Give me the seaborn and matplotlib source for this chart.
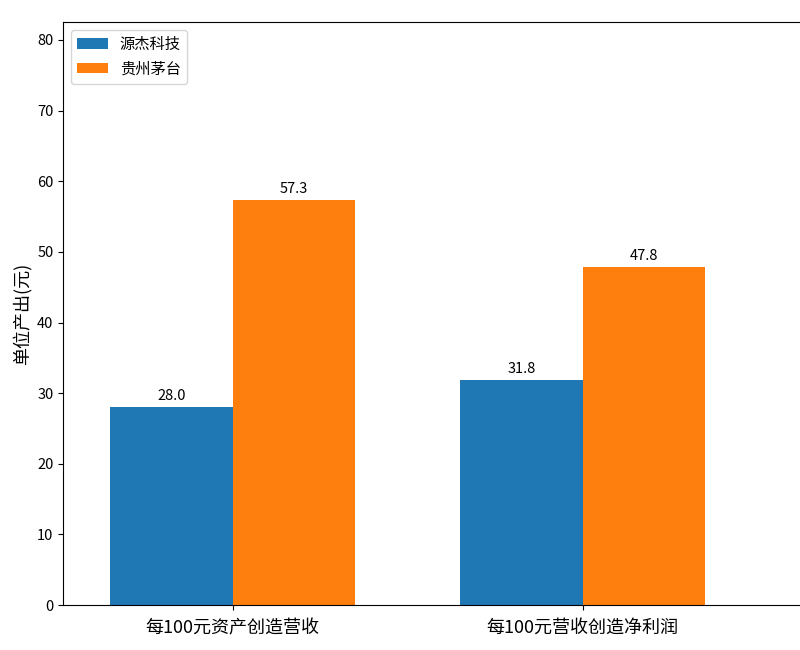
import matplotlib
matplotlib.use("Agg")
import matplotlib.pyplot as plt
import seaborn as sns
import pandas as pd

# data
categories = ["每100元资产创造营收", "每100元营收创造净利润"]
companies = ["源杰科技", "贵州茅台"]
yuanjie = [28.0, 31.8]
maotai = [57.3, 47.8]
colors = ["#1f77b4", "#ff7f0e"]

plt.rcParams["font.family"] = ["Noto Sans CJK SC", "DejaVu Sans"]
plt.rcParams["axes.unicode_minus"] = False

df = pd.DataFrame({
    "指标": categories * 2,
    "公司": [companies[0]] * 2 + [companies[1]] * 2,
    "值": yuanjie + maotai,
})

fig = plt.figure(figsize=(8, 6.5), dpi=100)
# axes runs past the right edge, as in the cropped reference
ax = fig.add_axes([0.079, 0.069, 1.0, 0.897])

sns.barplot(data=df, x="指标", y="值", hue="公司", order=categories,
            hue_order=companies, palette=colors, width=0.7, gap=0,
            saturation=1, ax=ax)

for cont in ax.containers:
    ax.bar_label(cont, fmt="%.1f", padding=3, fontsize=10.5)

ax.set_ylim(0, max(maotai) * 1.44)
ax.set_xlim(-0.484, -0.484 + 800 / 350)
ax.set_xlabel("")
ax.set_ylabel("单位产出(元)", fontsize=13)
ax.tick_params(axis="x", labelsize=13, pad=6.5)
ax.tick_params(axis="y", labelsize=10.5)
ax.legend(loc="upper left", fontsize=11)

fig.savefig("out.png", dpi=100)
